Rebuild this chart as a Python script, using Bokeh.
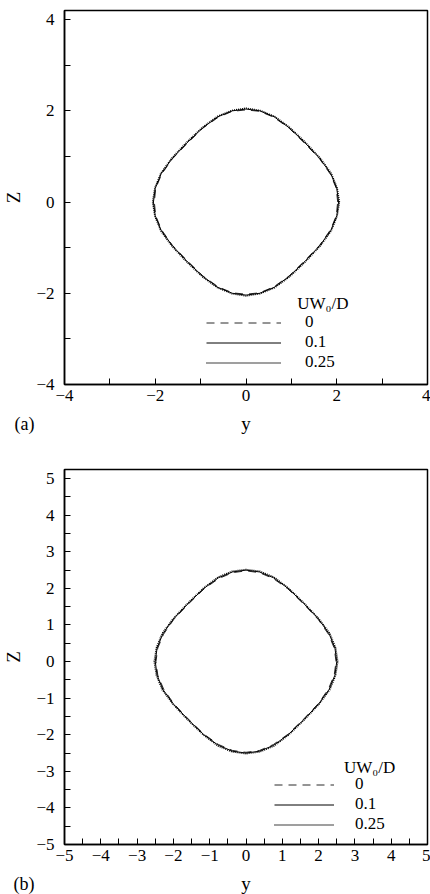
from bokeh.plotting import figure
from bokeh.layouts import column
from bokeh.models import Legend, LegendItem, Label, FixedTicker, Range1d
from bokeh.embed import file_html
from bokeh.resources import INLINE

# ---------------- data ----------------
# panel (a)
a_y_0 = [2.02, 1.99, 1.86, 1.62, 1.29, 0.95, 0.61, 0.30, 0.00, -0.30, -0.61, -0.95, -1.29, -1.62, -1.86, -1.99, -2.02,
         -1.99, -1.86, -1.62, -1.29, -0.95, -0.61, -0.30, 0.00, 0.30, 0.61, 0.95, 1.29, 1.62, 1.86, 1.99, 2.02]
a_z_0 = [0.00, 0.30, 0.61, 0.95, 1.29, 1.62, 1.86, 1.99, 2.02, 1.99, 1.86, 1.62, 1.29, 0.95, 0.61, 0.30, 0.00,
         -0.30, -0.61, -0.95, -1.29, -1.62, -1.86, -1.99, -2.02, -1.99, -1.86, -1.62, -1.29, -0.95, -0.61, -0.30, 0.00]
a_y_1 = [2.04, 2.00, 1.87, 1.63, 1.30, 0.95, 0.62, 0.30, 0.00, -0.30, -0.62, -0.95, -1.30, -1.63, -1.87, -2.00, -2.04,
         -2.00, -1.87, -1.63, -1.30, -0.95, -0.62, -0.30, 0.00, 0.30, 0.62, 0.95, 1.30, 1.63, 1.87, 2.00, 2.04]
a_z_1 = [0.00, 0.30, 0.62, 0.95, 1.30, 1.63, 1.87, 2.00, 2.04, 2.00, 1.87, 1.63, 1.30, 0.95, 0.62, 0.30, 0.00,
         -0.30, -0.62, -0.95, -1.30, -1.63, -1.87, -2.00, -2.04, -2.00, -1.87, -1.63, -1.30, -0.95, -0.62, -0.30, 0.00]
a_y_2 = [2.06, 2.01, 1.88, 1.64, 1.31, 0.96, 0.63, 0.31, 0.00, -0.31, -0.63, -0.96, -1.31, -1.64, -1.88, -2.01, -2.06,
         -2.01, -1.88, -1.64, -1.31, -0.96, -0.63, -0.31, 0.00, 0.31, 0.63, 0.96, 1.31, 1.64, 1.88, 2.01, 2.06]
a_z_2 = [0.00, 0.31, 0.63, 0.96, 1.31, 1.64, 1.88, 2.01, 2.06, 2.01, 1.88, 1.64, 1.31, 0.96, 0.63, 0.31, 0.00,
         -0.31, -0.63, -0.96, -1.31, -1.64, -1.88, -2.01, -2.06, -2.01, -1.88, -1.64, -1.31, -0.96, -0.63, -0.31, 0.00]

# panel (b)
b_y_0 = [2.48, 2.43, 2.27, 1.99, 1.58, 1.15, 0.75, 0.37, 0.00, -0.37, -0.75, -1.15, -1.58, -1.99, -2.27, -2.43, -2.48,
         -2.43, -2.27, -1.99, -1.58, -1.15, -0.75, -0.37, 0.00, 0.37, 0.75, 1.15, 1.58, 1.99, 2.27, 2.43, 2.48]
b_z_0 = [0.00, 0.37, 0.75, 1.15, 1.58, 1.99, 2.27, 2.43, 2.48, 2.43, 2.27, 1.99, 1.58, 1.15, 0.75, 0.37, 0.00,
         -0.37, -0.75, -1.15, -1.58, -1.99, -2.27, -2.43, -2.48, -2.43, -2.27, -1.99, -1.58, -1.15, -0.75, -0.37, 0.00]
b_y_1 = [2.50, 2.45, 2.29, 2.00, 1.59, 1.16, 0.76, 0.37, 0.00, -0.37, -0.76, -1.16, -1.59, -2.00, -2.29, -2.45, -2.50,
         -2.45, -2.29, -2.00, -1.59, -1.16, -0.76, -0.37, 0.00, 0.37, 0.76, 1.16, 1.59, 2.00, 2.29, 2.45, 2.50]
b_z_1 = [0.00, 0.37, 0.76, 1.16, 1.59, 2.00, 2.29, 2.45, 2.50, 2.45, 2.29, 2.00, 1.59, 1.16, 0.76, 0.37, 0.00,
         -0.37, -0.76, -1.16, -1.59, -2.00, -2.29, -2.45, -2.50, -2.45, -2.29, -2.00, -1.59, -1.16, -0.76, -0.37, 0.00]
b_y_2 = [2.53, 2.47, 2.31, 2.01, 1.60, 1.17, 0.77, 0.38, 0.00, -0.38, -0.77, -1.17, -1.60, -2.01, -2.31, -2.47, -2.53,
         -2.47, -2.31, -2.01, -1.60, -1.17, -0.77, -0.38, 0.00, 0.38, 0.77, 1.17, 1.60, 2.01, 2.31, 2.47, 2.53]
b_z_2 = [0.00, 0.38, 0.77, 1.17, 1.60, 2.01, 2.31, 2.47, 2.52, 2.47, 2.31, 2.01, 1.60, 1.17, 0.77, 0.38, 0.00,
         -0.38, -0.77, -1.17, -1.60, -2.01, -2.31, -2.47, -2.52, -2.47, -2.31, -2.01, -1.60, -1.17, -0.77, -0.38, 0.00]

legend_labels = ["0", "0.1", "0.25"]
legend_title = "UW\u2080/D"
x_title = "y"
y_title = "Z"

a_major = [-4, -2, 0, 2, 4]
a_minor = [-3, -1, 1, 3]
b_major = [-5, -4, -3, -2, -1, 0, 1, 2, 3, 4, 5]
b_minor = [-4.5, -3.5, -2.5, -1.5, -0.5, 0.5, 1.5, 2.5, 3.5, 4.5]

FONT = "Liberation Serif"


def make_panel(height, top, bottom, xr, yr, major, minor, curves,
               leg_loc, glyph_w, standoff, title_xy):
    p = figure(width=430, height=height, x_range=xr, y_range=yr,
               output_backend="svg", toolbar_location=None,
               min_border_left=62, min_border_right=3,
               min_border_top=top, min_border_bottom=bottom,
               background_fill_color="white", border_fill_color="white")
    p.grid.visible = False
    p.outline_line_color = "black"
    p.outline_line_width = 1.5
    for ax in (p.xaxis[0], p.yaxis[0]):
        ax.ticker = FixedTicker(ticks=major, minor_ticks=minor)
        ax.major_tick_in = 6
        ax.major_tick_out = 0
        ax.minor_tick_in = 6
        ax.minor_tick_out = 0
        ax.major_tick_line_color = "black"
        ax.minor_tick_line_color = "black"
        ax.axis_line_color = "black"
        ax.axis_line_width = 1.5
        ax.major_label_text_font = FONT
        ax.major_label_text_font_size = "17px"
        ax.major_label_text_color = "black"
        ax.axis_label_text_font = FONT
        ax.axis_label_text_font_size = "19px"
        ax.axis_label_text_font_style = "normal"
        ax.axis_label_text_color = "black"
    p.yaxis.axis_label = y_title
    p.xaxis.major_label_standoff = 5
    p.yaxis.major_label_standoff = 10
    p.yaxis.axis_label_standoff = 9
    p.yaxis.major_label_orientation = "horizontal"

    styles = [dict(line_dash="8 6", line_color="#2a2a2a", line_width=1.0),
              dict(line_dash="solid", line_color="black", line_width=1.0),
              dict(line_dash="1 1", line_color="black", line_width=1.4)]
    items = []
    for (cy, cz), st, lab in zip(curves, styles, legend_labels):
        r = p.line(cy, cz, **st)
        items.append(LegendItem(label=lab, renderers=[r]))

    leg = Legend(items=items, location=leg_loc, orientation="vertical",
                 glyph_width=glyph_w, glyph_height=19, label_height=19,
                 label_standoff=standoff, spacing=0, padding=0, margin=0,
                 border_line_alpha=0, background_fill_alpha=0,
                 label_text_font=FONT, label_text_font_size="17px",
                 label_text_color="black")
    p.add_layout(leg)

    p.add_layout(Label(x=title_xy[0], y=title_xy[1], text=legend_title,
                       text_font=FONT, text_font_size="17px", text_color="black",
                       text_baseline="middle"))
    return p


def make_strip(height, ymid, tag):
    # caption row under a panel: "(a)"/"(b)" tag at the far left, the x-axis title centred
    s = figure(width=430, height=height, x_range=Range1d(62, 427), y_range=Range1d(0, height),
               output_backend="svg", toolbar_location=None,
               min_border_left=62, min_border_right=3, min_border_top=0, min_border_bottom=0,
               background_fill_color="white", border_fill_color="white")
    s.xaxis.visible = False
    s.grid.visible = False
    s.outline_line_color = None
    ya = s.yaxis[0]
    ya.ticker = FixedTicker(ticks=[ymid], minor_ticks=[])
    ya.major_label_overrides = {ymid: tag}
    ya.major_tick_in = 0
    ya.major_tick_out = 0
    ya.minor_tick_in = 0
    ya.minor_tick_out = 0
    ya.axis_line_color = None
    ya.major_label_standoff = 30
    ya.major_label_text_font = FONT
    ya.major_label_text_font_size = "18px"
    ya.major_label_text_color = "black"
    ya.major_label_orientation = "horizontal"
    s.add_layout(Label(x=244.5, y=ymid, text=x_title, text_font=FONT, text_font_size="19px",
                       text_color="black", text_baseline="middle", text_align="center"))
    return s


p1 = make_panel(410, 10, 26, (-4, 4), (-4, 4.2), a_major, a_minor,
                [(a_y_0, a_z_0), (a_y_1, a_z_1), (a_y_2, a_z_2)],
                (142, 12), 75, 24, (1.13, -2.22))
s1 = make_strip(30, 17, "(a)")
p2 = make_panel(430, 29, 26, (-5, 5), (-5, 5.25), b_major, b_minor,
                [(b_y_0, b_z_0), (b_y_1, b_z_1), (b_y_2, b_z_2)],
                (210, 10), 60, 21, (2.70, -2.89))
s2 = make_strip(24, 11, "(b)")

layout = column(p1, s1, p2, s2, spacing=0)
open("out.html", "w").write(file_html(layout, INLINE))
